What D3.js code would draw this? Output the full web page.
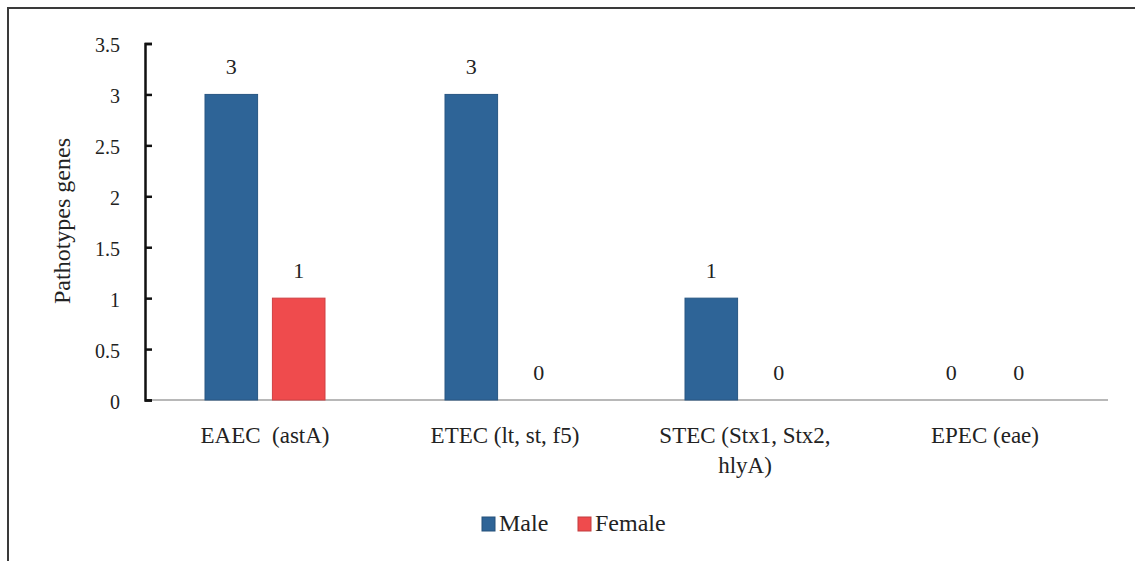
<!DOCTYPE html>
<html lang="en">
<head>
<meta charset="UTF-8">
<title>Pathotypes genes</title>
<script src="https://d3js.org/d3.v7.min.js"></script>
<style>
    body { margin: 0; background: #fff; }
    svg text { fill: #222; }
</style>
</head>
<body>
<svg width="1135" height="561"></svg>
<script>
const categories = ["EAEC  (astA)", "ETEC (lt, st, f5)", "STEC (Stx1, Stx2, hlyA)", "EPEC (eae)"];
const categoryLines = [["EAEC\u00a0\u00a0(astA)"], ["ETEC (lt, st, f5)"], ["STEC (Stx1, Stx2,", "hlyA)"], ["EPEC (eae)"]];
const seriesNames = ["Male", "Female"];
const maleValues = [3, 3, 1, 0];
const femaleValues = [1, 0, 0, 0];
const yTicks = [0, 0.5, 1, 1.5, 2, 2.5, 3, 3.5];
const colors = { Male: "#2e6497", Female: "#ef4b4d" };

const serif = "'Liberation Serif', 'Times New Roman', Times, 'DejaVu Serif', serif";

const data = categories.map((c, i) => ({
    cat: c,
    values: [
        { series: "Male", value: maleValues[i] },
        { series: "Female", value: femaleValues[i] }
    ]
}));

const svg = d3.select("svg");

// outer frame (only top and left edges show in the original)
svg.append("path")
    .attr("d", "M8,561 L8,8 L1135,8")
    .attr("fill", "none")
    .attr("stroke", "#3a3a3a")
    .attr("stroke-width", 2);

const margin = { top: 43.5, left: 145 };
const height = 400 - margin.top;

const g = svg.append("g").attr("transform", `translate(${margin.left},${margin.top})`);

const x0 = d3.scaleBand().domain(categories).range([0, 960]);
const x1 = d3.scaleBand().domain(seriesNames).range([60, 180]).paddingInner(0.22);
const y = d3.scaleLinear().domain([0, 3.5]).range([height, 0]);

// baseline
g.append("line")
    .attr("x1", 0).attr("x2", 963)
    .attr("y1", y(0)).attr("y2", y(0))
    .attr("stroke", "#a0a0a0").attr("stroke-width", 1.5);

// y axis
const yAxis = g.append("g")
    .call(d3.axisLeft(y).tickValues(yTicks).tickSize(-7).tickPadding(0).tickFormat(d => d));
yAxis.attr("font-family", serif).attr("font-size", 20);
yAxis.select(".domain").attr("stroke", "#111").attr("stroke-width", 2.5);
yAxis.selectAll(".tick line").attr("stroke", "#111").attr("stroke-width", 2.5);
yAxis.selectAll(".tick text").attr("x", -25).attr("dy", "0.42em").attr("fill", "#222");

// bars
const groups = g.selectAll(".grp")
    .data(data)
    .enter().append("g")
    .attr("class", "grp")
    .attr("transform", d => `translate(${x0(d.cat)},0)`);

groups.selectAll("rect")
    .data(d => d.values.filter(v => v.value > 0))
    .enter().append("rect")
    .attr("x", d => x1(d.series))
    .attr("y", d => y(d.value))
    .attr("width", x1.bandwidth())
    .attr("height", d => y(0) - y(d.value))
    .attr("fill", d => colors[d.series])
    .attr("stroke", d => d3.color(colors[d.series]).darker(0.4))
    .attr("stroke-width", 1);

groups.selectAll(".value-label")
    .data(d => d.values)
    .enter().append("text")
    .attr("class", "value-label")
    .attr("text-anchor", "middle")
    .attr("font-family", serif).attr("font-size", 22)
    .attr("x", d => x1(d.series) + x1.bandwidth() / 2)
    .attr("y", d => y(d.value) - 20)
    .text(d => d.value);

// category labels
const catText = g.selectAll(".cat-label")
    .data(categories)
    .enter().append("text")
    .attr("class", "cat-label")
    .attr("text-anchor", "middle")
    .attr("font-family", serif).attr("font-size", 23)
    .attr("x", d => x0(d) + x0.bandwidth() / 2)
    .attr("y", y(0) + 43);
catText.each(function(d, i) {
    d3.select(this).selectAll("tspan")
        .data(categoryLines[i])
        .enter().append("tspan")
        .attr("x", x0(d) + x0.bandwidth() / 2)
        .attr("dy", (l, j) => j === 0 ? 0 : 30)
        .text(l => l);
});

// y axis title
svg.append("text")
    .attr("text-anchor", "middle")
    .attr("font-family", serif).attr("font-size", 24)
    .attr("transform", "translate(70,221) rotate(-90)")
    .text("Pathotypes genes");

// legend
const legend = svg.append("g").attr("transform", "translate(482,531)");
const legendX = [0, 96];
seriesNames.forEach((s, i) => {
    const item = legend.append("g").attr("transform", `translate(${legendX[i]},0)`);
    item.append("rect")
        .attr("x", 0).attr("y", -14)
        .attr("width", 13).attr("height", 14)
        .attr("fill", colors[s])
        .attr("stroke", d3.color(colors[s]).darker(0.6));
    item.append("text")
        .attr("font-family", serif).attr("font-size", 24)
        .attr("x", 17).attr("y", 0)
        .text(s);
});
</script>
</body>
</html>
